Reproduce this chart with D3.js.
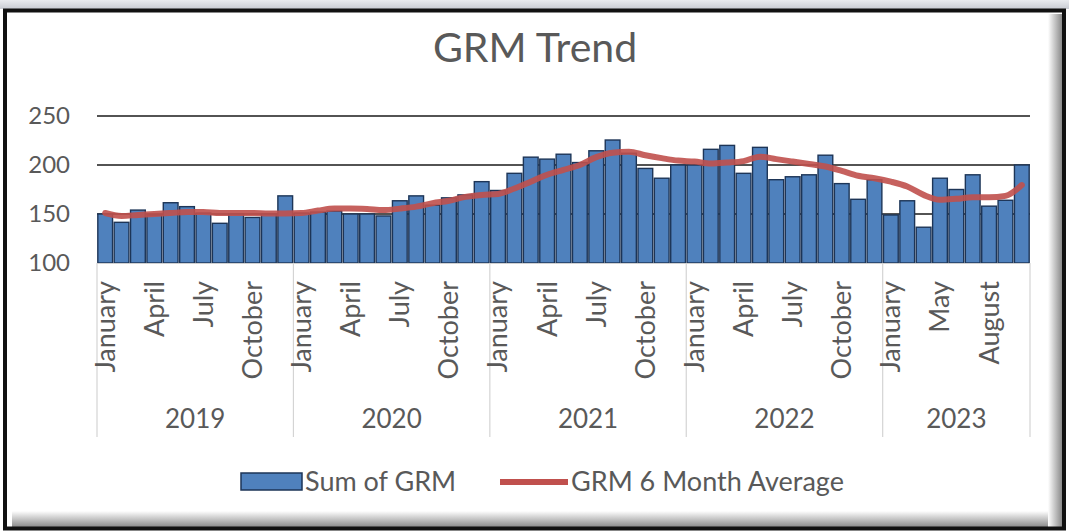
<!DOCTYPE html>
<html><head><meta charset="utf-8">
<script src="https://cdn.jsdelivr.net/npm/d3@7/dist/d3.min.js"></script>
<style>
html,body{margin:0;padding:0;background:#fff;}
svg{display:block;}
text{font-family:Lato,"Open Sans",sans-serif;fill:#595959;}
</style></head>
<body>
<svg id="chart" width="1069" height="531"></svg>
<script>
const title = "GRM Trend";
const years = ["2019","2020","2021","2022","2023"];
const monthsByYear = [
  ["January","February","March","April","May","June","July","August","September","October","November","December"],
  ["January","February","March","April","May","June","July","August","September","October","November","December"],
  ["January","February","March","April","May","June","July","August","September","October","November","December"],
  ["January","February","March","April","May","June","July","August","September","October","November","December"],
  ["January","February","March","May","June","July","August","September","October"]
];
const grm = [
  150,141.5,154,149,161.5,157.5,151,140.5,150,146.5,150,168.5,
  151,152,153,150,150,148,163.5,168.5,159,166.5,169.5,183,
  174,191.5,208,206,211,202.5,214.5,225.5,212,196.5,186.5,200,
  200,216,220,191.5,218,185,188,190,210,181,165,185,
  149,163.5,136.5,186.5,175,190,158,164,200
];
const avg6 = [
  151,148,149,150,151,152,152,151,151,151,150.5,150.5,
  151,153.5,155.5,155.5,155,154,155.5,157.5,161,163.5,167.5,169.5,
  170.5,176,183,190,195,200,208,212.5,213.5,210,207,204.5,
  203.5,201.5,202.5,204,208.5,206,203.5,201,198.5,194,189,186.5,
  183,178,169.5,164.5,165.5,167,167,168.5,179.5
];
const yTicks = [100,150,200,250];
const gridTicks = [150,200,250];
const seriesNames = ["Sum of GRM","GRM 6 Month Average"];

(function(){
const cats = [];
years.forEach((yr,yi)=>monthsByYear[yi].forEach(m=>cats.push({year:yr,month:m})));
const idx = cats.map((c,i)=>i);

const svg = d3.select("#chart");
const W=1069,H=531;
const pL=97,pR=1030,pT=116,pB=263;

const defs = svg.append("defs");
const gB = defs.append("linearGradient").attr("id","shB").attr("x1",0).attr("y1",0).attr("x2",0).attr("y2",1);
gB.append("stop").attr("offset","0%").attr("stop-color","#fff");
gB.append("stop").attr("offset","100%").attr("stop-color","#8a8a8a");
const gR = defs.append("linearGradient").attr("id","shR").attr("x1",0).attr("y1",0).attr("x2",1).attr("y2",0);
gR.append("stop").attr("offset","0%").attr("stop-color","#fff");
gR.append("stop").attr("offset","100%").attr("stop-color","#8a8a8a");
const gT = defs.append("linearGradient").attr("id","shT").attr("x1",0).attr("y1",0).attr("x2",0).attr("y2",1);
gT.append("stop").attr("offset","0%").attr("stop-color","#e9ebef");
gT.append("stop").attr("offset","100%").attr("stop-color","#c9ccd3");

svg.append("rect").attr("x",0).attr("y",0).attr("width",W).attr("height",9).attr("fill","url(#shT)");
svg.append("rect").attr("x",5).attr("y",10).attr("width",1059).attr("height",519).attr("fill","#fff");
svg.append("rect").attr("x",12).attr("y",511).attr("width",1050).attr("height",16).attr("fill","url(#shB)");
svg.append("rect").attr("x",1048).attr("y",14).attr("width",14).attr("height",513).attr("fill","url(#shR)");
svg.append("rect").attr("x",5).attr("y",10.5).attr("width",1059).attr("height",518).attr("fill","none").attr("stroke","#111").attr("stroke-width",4);

const x = d3.scaleBand().domain(idx).range([pL,pR]).paddingInner(0.1).paddingOuter(0.05);
const step = (pR-pL)/cats.length;
const y = d3.scaleLinear().domain([100,250]).range([pB,pT]);

svg.append("text").attr("x",535).attr("y",62).attr("text-anchor","middle")
  .style("font-size","41px").text(title);

svg.append("g").selectAll("line").data(gridTicks).join("line")
  .attr("x1",pL).attr("x2",pR).attr("y1",d=>y(d)).attr("y2",d=>y(d))
  .attr("stroke","#1a1a1a").attr("stroke-width",1.6);

const yAxis = d3.axisLeft(y).tickValues(yTicks).tickSize(0).tickPadding(0);
const gy = svg.append("g").attr("transform","translate(70,0)").call(yAxis);
gy.select(".domain").remove();
gy.selectAll("text").style("font-size","24px").style("font-family","Lato").attr("fill","#595959");

svg.append("g").selectAll("rect").data(grm).join("rect")
  .attr("x",(d,i)=>x(i)).attr("width",x.bandwidth())
  .attr("y",d=>y(d)).attr("height",d=>y(100)-y(d))
  .attr("fill","#4F81BD").attr("stroke","#1d3557").attr("stroke-width",1.4);

const line = d3.line().x((d,i)=>x(i)+x.bandwidth()/2).y(d=>y(d)).curve(d3.curveMonotoneX);
svg.append("path").datum(avg6).attr("d",line).attr("fill","none")
  .attr("stroke","#C0504D").attr("stroke-width",6).attr("stroke-opacity",0.9)
  .attr("stroke-linejoin","round").attr("stroke-linecap","round");

svg.append("line").attr("x1",pL).attr("x2",pR).attr("y1",pB+0.5).attr("y2",pB+0.5).attr("stroke","#d0d0d0");
const bounds=[0]; let acc=0; monthsByYear.forEach(m=>{acc+=m.length;bounds.push(acc);});
svg.append("g").selectAll("line").data(bounds).join("line")
  .attr("x1",d=>pL+d*step).attr("x2",d=>pL+d*step).attr("y1",pB).attr("y2",437)
  .attr("stroke","#d4d4d4").attr("stroke-width",1.2);
svg.append("g").selectAll("text").data(cats.map((c,i)=>({c,i})).filter(d=>d.i%3===0))
  .join("text")
  .attr("transform",d=>`translate(${x(d.i)+x.bandwidth()/2},281) rotate(-90)`)
  .attr("text-anchor","end").attr("dy","0.35em").style("font-size","27px")
  .text(d=>d.c.month);
svg.append("g").selectAll("text").data(years).join("text")
  .attr("x",(d,i)=>pL+(bounds[i]+bounds[i+1])/2*step).attr("y",428)
  .attr("text-anchor","middle").style("font-size","26px").text(d=>d);

svg.append("rect").attr("x",241).attr("y",473).attr("width",61).attr("height",17)
  .attr("fill","#4F81BD").attr("stroke","#1d3557").attr("stroke-width",1.5);
svg.append("text").attr("x",305).attr("y",491).style("font-size","27px").text(seriesNames[0]);
svg.append("line").attr("x1",500).attr("x2",568).attr("y1",482).attr("y2",482)
  .attr("stroke","#C0504D").attr("stroke-width",6);
svg.append("text").attr("x",571).attr("y",491).style("font-size","27px").text(seriesNames[1]);
})();
</script>
</body></html>
